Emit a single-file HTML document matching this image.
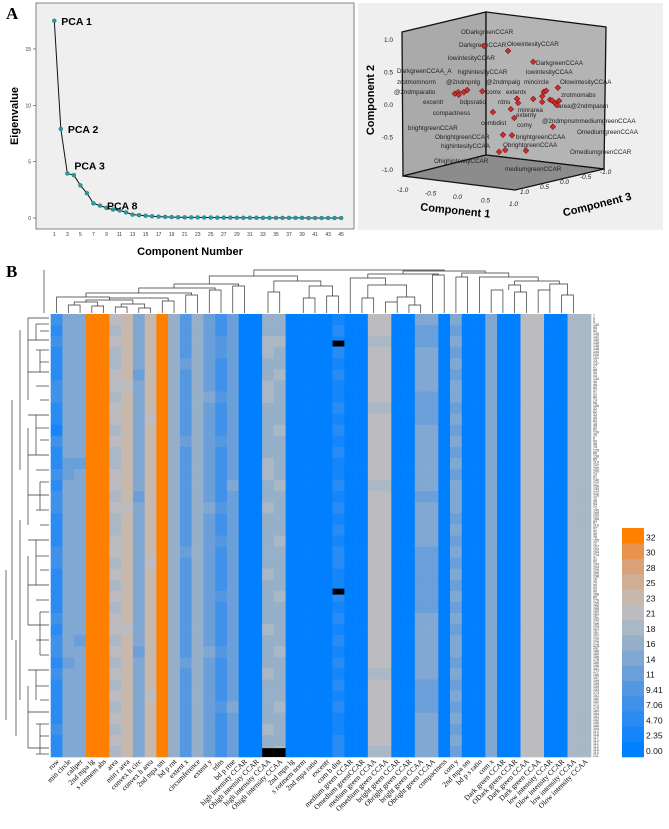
<!DOCTYPE html>
<html><head><meta charset="utf-8">
<style>
body{margin:0;background:#fff;width:669px;height:829px;overflow:hidden;position:relative;font-family:"Liberation Sans",sans-serif}
svg{position:absolute;left:0;top:0}
</style></head>
<body>
<svg id="fig" width="669" height="829" viewBox="0 0 669 829" xmlns="http://www.w3.org/2000/svg">
  <text x="6" y="19" font-family="Liberation Serif" font-weight="bold" font-size="17">A</text>
  <text x="6" y="277" font-family="Liberation Serif" font-weight="bold" font-size="17">B</text>
  <g id="scree">
    <rect x="36" y="3" width="318" height="226" fill="#efefef" stroke="#666" stroke-width="0.8"/>
    <text transform="translate(18,116) rotate(-90)" text-anchor="middle" font-weight="bold" font-size="11">Eigenvalue</text>
    <text x="190" y="255" text-anchor="middle" font-weight="bold" font-size="11">Component Number</text>
  </g>
  <g id="pca3d">
    <rect x="358" y="3" width="305" height="227" fill="#efefef"/>
    <polygon points="402,32 486,12 486,155 403,176" fill="#aaa" stroke="#111" stroke-width="1.3"/>
    <polygon points="486,12 606,27 604,169 486,155" fill="#b4b4b4" stroke="#111" stroke-width="1.3"/>
    <polygon points="403,176 486,155 604,169 515,190" fill="#8c8c8c" stroke="#111" stroke-width="1.3"/>
    <text transform="translate(374,100) rotate(-90)" text-anchor="middle" font-weight="bold" font-size="11">Component 2</text>
    <text transform="translate(455,214) rotate(6)" text-anchor="middle" font-weight="bold" font-size="11">Component 1</text>
    <text transform="translate(598,208) rotate(-14)" text-anchor="middle" font-weight="bold" font-size="11">Component 3</text>
  </g>
  <g id="heat"></g>
  <g id="dendro" fill="none" stroke="#333" stroke-width="0.7"></g>
  <g id="cbar"></g>
</svg>
<script>
const NS='http://www.w3.org/2000/svg';
function mk(tag,attrs,parent,txt){const e=document.createElementNS(NS,tag);for(const k in attrs)e.setAttribute(k,attrs[k]);if(txt!==undefined)e.textContent=txt;parent.appendChild(e);return e;}

// ---------- Scree plot data ----------
const screeComponents=[1,2,3,4,5,6,7,8,9,10,11,12,13,14,15,16,17,18,19,20,21,22,23,24,25,26,27,28,29,30,31,32,33,34,35,36,37,38,39,40,41,42,43,44,45];
const eigenvalues=[17.5,7.9,3.95,3.8,2.9,2.2,1.3,1.1,0.9,0.75,0.68,0.5,0.3,0.25,0.2,0.15,0.12,0.1,0.08,0.07,0.06,0.05,0.05,0.04,0.04,0.03,0.03,0.03,0.02,0.02,0.02,0.02,0.01,0.01,0.01,0.01,0.01,0.01,0.01,0.0,0.0,0.0,0.0,0.0,0.0];
const screeYTicks=[0,5,10,15];
const screeLabels=[{c:1,t:'PCA 1'},{c:2,t:'PCA 2'},{c:3,t:'PCA 3'},{c:8,t:'PCA 8'}];

// ---------- 3D component plot data ----------
const comp1=[-0.34,0.09,0.54,-0.86,-0.80,-0.79,-0.70,-0.64,-0.37,-0.18,0.14,0.25,0.27,0.20,0.54,0.70,0.73,0.77,0.70,0.84,0.88,0.93,0.96,1.0,0.98,0.89,0.0,0.16,-0.07,0.04,0.41];
const comp2=[0.91,0.88,0.76,0.12,0.15,0.11,0.16,0.2,0.21,-0.09,-0.01,0.16,0.10,-0.14,0.19,0.25,0.32,0.34,0.16,0.21,0.2,0.17,0.14,0.21,0.41,-0.2,-0.42,-0.41,-0.69,-0.65,-0.62];
const comp3=[0,0,0,0,0,0,0,0,0,0,0,0,0,0,0,0,0,0,0,0,0,0,0,0,0,0,0,0,0,0,0];
const ticks3d=[1.0,0.5,0.0,-0.5,-1.0];

// ---------- Heatmap data ----------
const colLabels=['row','min circle','caliper','2nd mpa lg','s rotmem abs','area','min r area','convex h circ','convex h area','2nd mpa sm','bd p rnt','extent x','circumference','extent y','rdns','bd p rtne','high intensity CCAR','Ohigh intensity CCAR','high intensity CCAA','Ohigh intensity CCAA','2nd mpn lg','s rotmem norm','2nd mpa ratio','excentr','com b dist','medium green CCAR','Omedium greenCCAR','medium green CCAA','Omedium green CCAA','bright green CCAR','Obright green CCAR','bright green CCAA','Obright green CCAA','compactness','com y','2nd mpa sm','bd p s ratio','com x','Dark green CCAR','ODark green CCAR','Dark green CCAA','Dark green CCAA','low intensity CCAR','Olow intensity CCAR','low intensity CCAA','Olow intensity CCAA'];
const legendValues=[0.00,2.35,4.70,7.06,9.41,11,14,16,18,21,23,25,28,30,32];
const legendLabels=['0.00','2.35','4.70','7.06','9.41','11','14','16','18','21','23','25','28','30','32'];
const Z='0000000000000000000000000000000000000000', E='eeeeeeeeeeeeeeeeeeeeeeeeeeeeeeeeeeeeeeee';
const heatLevels=[
'3232223322132232332223322223233232222322',
'6666666666666556666666666666666566666666',
'6666666666666566666666666666656666666666',
E,E,
'9898899899898899898899898989989898989898',
'aaaaaa9aaaaaaaaaa9aaaaaaaaaa9aaaaaaaaaaa',
'6666656666666666566666666666665666666666',
'aaaaaaaaa9aaaaaaaaaaaa9aaaaaaaaaaa9aaaaa',
E,
'7777777777777777777777777777777777777777',
'4444544444454444444445444444444544444444',
'7777777777777777777777777777777777777777',
'5555555655555555565555555555556555555555',
'3344333433343333343343333433334333343333',
'5555555555555556555555555555555555565555',
Z,Z,
'7788778877777887787777787777877787777877',
'7787787777877778777787777877778777787778',
Z,Z,Z,Z,
'1212121121212112121212211212121212121122',
Z,Z,
'9989999989999998999999999999999989999998',
'9989999989999998999999999999999989999998',
Z,Z,
'6556666555666666566665555556666665556666',
'6556666555666666566665555556666665556666',
Z,
'6565656656565656665656565656566565656565',
Z,Z,
'6666666666666666666666666666666666666666',
Z,Z,
'9999999999999999999999999999999999999999',
'9999999999999999999999999999999999999999',
Z,Z,
'8888888888888888888888888888888888888888',
'8888888888888888888888888888888888888888'
];
const missingCol=[24,24,18,19];
const missingRow=[9,93,147,147]; // in 150-row space
const missingRows=[2,2,3,3];
const rowIds='7 9 5 130 95 52 140 142 150 136 138 148 144 200 101 13 137 27 68 30 44 134 49 46 60 47 21 80 73 58 106 32 82 33 45 83 15 39 82 130 20 6 69 48 74 125 66 138 85 119 147 165 100 19 61 140 127 158 143 122 126 12 36 94 72 145 180 132 184 87 116 97 42 96 78 105 12 107 193 164 174 31 92 104 109 129 165 198 16 70 90 93 99 188 89 176 155 158 168 162 187 183 172 185 124 167 181 121 120 170 175 157 186 169 156 178 189 196 161 177 160 197 199 195 159 153 173 191 182 192 171 179 163 154 151 152 190 166 194 113 118 117 114 111 112 115 110 211'.split(' ');

const palette=['#0080ff','#1485fa','#2a8bf2','#3f91ea','#5598e2','#6a9fda','#80a8d2','#96b0ca','#aab7c4','#bcbcc0','#c6b8ac','#cfae94','#daa078','#e8924c','#ff8000'];

// ===== Scree =====
const sx=c=>54.3+(c-1)*6.52, sy=v=>218-v*11.27;
const scree=document.getElementById('scree');
screeYTicks.forEach(t=>{
  let l=mk('line',{x1:33,x2:36,y1:sy(t),y2:sy(t),stroke:'#444','stroke-width':0.6},scree);
  
  
  let tx=mk('text',{x:31,y:sy(t)+2,'text-anchor':'end','font-size':5,fill:'#333'},scree,String(t));
  
  
});
screeComponents.forEach(c=>{
  if(c%2===1){
    let tx=mk('text',{x:sx(c),y:236,'text-anchor':'middle','font-size':5,fill:'#333'},scree,String(c));
    
    
  }
});
let pth='';
screeComponents.forEach((c,i)=>{pth+=(i?'L':'M')+sx(c)+','+sy(eigenvalues[i]);});
let sl=mk('path',{d:pth,fill:'none',stroke:'#111','stroke-width':1},scree);


screeComponents.forEach((c,i)=>{
  let p=mk('circle',{cx:sx(c),cy:sy(eigenvalues[i]),r:2,fill:'#2a9a9e',stroke:'#1c7478','stroke-width':0.4},scree);
  
  
});
screeLabels.forEach(o=>{
  let v=eigenvalues[o.c-1];
  let tx=mk('text',{x:sx(o.c)+7,y:sy(v)+(o.c===3?-4:4),'font-weight':'bold','font-size':10.5},scree,o.t);
  
  
});

// ===== 3D =====
const g3=document.getElementById('pca3d');
const proj=(a,b,c)=>[403+56*(a+1)+44*(1-c), 176+7*(a+1)-10.5*(1-c)-65*(b+1)];
ticks3d.forEach(t=>{
  let y=176-10.5-65*(t+1)+24*0+ (t+1)*0;
  let yy=170-(t+1)*65;
  let tx=mk('text',{x:393,y:yy+2,'text-anchor':'end','font-size':6.5,fill:'#222'},g3,t.toFixed(1));
  
  
});
ticks3d.slice().reverse().forEach((t,i)=>{
  let tx=mk('text',{x:403+i*28-6,y:192+i*3.5,'font-size':6.5,fill:'#222','font-style':'italic'},g3,t.toFixed(1));
  
  
  let tx2=mk('text',{x:520+i*20,y:194-i*5,'font-size':6.5,fill:'#222','font-style':'italic'},g3,(-t).toFixed(1));
  
  
});
const lbl3=[['ODarkgreenCCAR',461,34],['DarkgreenCCAR',459,47],['OlowintesityCCAR',507,46],['lowintesityCCAR',448,60],['DarkgreenCCAA',536,65],['DarkgreenCCAA_A',397,73],['highintesityCCAR',458,74],['lowintesityCCAA',526,74],['zrotmomnorm',397,84],['@2ndmpnlg',446,84],['@2ndmpalg',486,84],['mincircle',524,84],['OlowintesityCCAA',560,84],['@2ndmparatio',394,94],['comx',486,94],['extentx',506,94],['zrotmomabs',561,97],['excentr',423,104],['bdpsratio',460,104],['rdns',498,104],['compactness',433,115],['minrarea',518,112],['area@2ndmpasm',558,108],['extenty',516,117],['combdist',481,125],['comy',517,127],['@2ndmpnsmmediumgreenCCAA',542,123],['brightgreenCCAR',408,130],['OmediumgreenCCAA',577,134],['ObrightgreenCCAR',435,139],['brightgreenCCAA',516,139],['highintesityCCAA',441,148],['ObrightgreenCCAA',503,147],['OmediumgreenCCAR',570,154],['OhighintesityCCAR',434,163],['mediumgreenCCAR',505,171]];
lbl3.forEach(l=>{
  let tx=mk('text',{x:l[1],y:l[2],'font-size':6.3,fill:'#222'},g3,l[0]);
  
  
});
comp1.forEach((a,i)=>{
  const [px,py]=proj(a,comp2[i],comp3[i]);
  let d=mk('rect',{x:px-2,y:py-2,width:4,height:4,fill:'#d42b2b',stroke:'#611','stroke-width':0.5,transform:`rotate(45 ${px} ${py})`},g3);
  
  
});

// ===== Heatmap =====
const H=document.getElementById('heat');
const hx0=50.7,hx1=591,hy0=314,hy1=757;
const nCols=colLabels.length, nRows=40;
const cw=(hx1-hx0)/nCols, rh=(hy1-hy0)/nRows, rh150=(hy1-hy0)/150;
const colX=i=>hx0+i*cw, rowY=r=>hy0+r*rh;
heatLevels.forEach((s,ci)=>{
  for(let r=0;r<nRows;r++){
    const lv=parseInt(s[r],16);
    let c=mk('rect',{x:colX(ci),y:rowY(r),width:cw+0.3,height:rh+0.3,fill:palette[lv]},H);
    
    
    c.setAttribute('data-value',legendValues[lv]);
  }
});
missingCol.forEach((ci,k)=>{
  let m=mk('rect',{x:colX(ci),y:hy0+missingRow[k]*rh150,width:cw,height:missingRows[k]*rh150,fill:'#000'},H);
  
  
});
colLabels.forEach((t,ci)=>{
  const x=colX(ci)+cw/2+3, y=762;
  let tx=mk('text',{x:x,y:y,'text-anchor':'end','font-family':'Liberation Serif','font-size':7.4,transform:`rotate(-45 ${x} ${y})`},H,t);
  
  
});
const rs=(hy1-hy0)/rowIds.length;
rowIds.forEach((t,i)=>{
  let tx=mk('text',{x:593,y:hy0+(i+1)*rs,'font-size':3.6,fill:'#333'},H,t);
  
  
});

// ===== Dendrograms (decorative) =====
const D=document.getElementById('dendro');
function U(x1,x2,yt,y1,y2){let p=mk('path',{d:`M${x1},${y1}V${yt}H${x2}V${y2}`},D);}
const cx=i=>colX(i)+cw/2;
U(cx(1),cx(2),305,313,313);U(cx(3),cx(4),306,313,313);U(cx(5),cx(6),307,313,313);U(cx(7),cx(8),308,313,313);
U(cx(1.5),cx(3.5),302,305,306);U(cx(5.5),cx(7.5),304,307,308);U(cx(2.5),cx(6.5),300,302,304);
U(cx(9),cx(10),301,313,313);U(cx(4.5),cx(9.5),298,300,301);U(cx(0),cx(4.5),297,313,298);
U(cx(11),cx(12),295,313,313);U(cx(2.5),cx(11.5),293,297,295);U(cx(13),cx(14),290,313,313);
U(cx(7),cx(13.5),288,293,290);U(cx(15),cx(16),286,313,313);U(cx(10),cx(15.5),284,288,286);
U(cx(18),cx(19),292,313,313);U(cx(21),cx(22),298,313,313);U(cx(23),cx(24),296,313,313);U(cx(21.5),cx(23.5),286,298,296);
U(cx(18.5),cx(22.5),281,292,286);U(cx(13),cx(20.5),276,284,281);
U(cx(26),cx(27),298,313,313);U(cx(28),cx(29),302,313,313);U(cx(30),cx(31),305,313,313);U(cx(29),cx(30.5),297,302,305);
U(cx(26.5),cx(29.8),285,298,297);U(cx(25),cx(28),278,313,285);U(cx(32),cx(33),275,313,313);U(cx(26.5),cx(32.5),274,278,275);
U(cx(34),cx(35),277,313,313);U(cx(37),cx(38),290,313,313);U(cx(39),cx(40),292,313,313);U(cx(38.5),cx(39.5),285,290,292);
U(cx(41),cx(42),290,313,313);U(cx(43),cx(44),295,313,313);U(cx(42),cx(43.5),284,290,295);U(cx(39),cx(42.8),281,285,284);
U(cx(36),cx(41),277,313,281);U(cx(34.5),cx(38.5),273,277,277);U(cx(29.5),cx(36.5),271,274,273);U(cx(16.8),cx(33),270,276,271);
let lp=mk('path',{d:'M44,270V313'},D);
const leftTicks=[318,324,331,340,350,362,372,386,400,415,428,440,455,470,482,495,510,525,540,556,570,585,600,612,625,640,655,670,686,700,712,724,736,748,754];
leftTicks.forEach((y,i)=>{const xs=i%3===0?28:(i%3===1?36:40);let p=mk('path',{d:`M${xs},${y}H49`},D);});
[[28,318,400],[36,324,340],[40,350,372],[20,330,470],[36,415,455],[28,428,525],[12,400,640],[40,482,510],[36,540,585],[28,556,625],[20,520,700],[40,612,655],[36,670,700],[28,686,748],[16,640,736],[6,570,720],[40,724,754]].forEach(a=>{let p=mk('path',{d:`M${a[0]},${a[1]}V${a[2]}`},D);});

// ===== Color legend =====
const CB=document.getElementById('cbar');
const cbx=622,cby0=528,cby1=757,ch=(cby1-cby0)/legendValues.length;
legendValues.forEach((v,i)=>{
  const y=cby1-(i+1)*ch;
  let r=mk('rect',{x:cbx,y:y,width:22,height:ch+0.3,fill:palette[i]},CB);
  
  
  let t=mk('text',{x:cbx+24,y:y+ch-3,'font-size':8.5,fill:'#111'},CB,legendLabels[i]);
  
  
});
</script>
</body></html>
